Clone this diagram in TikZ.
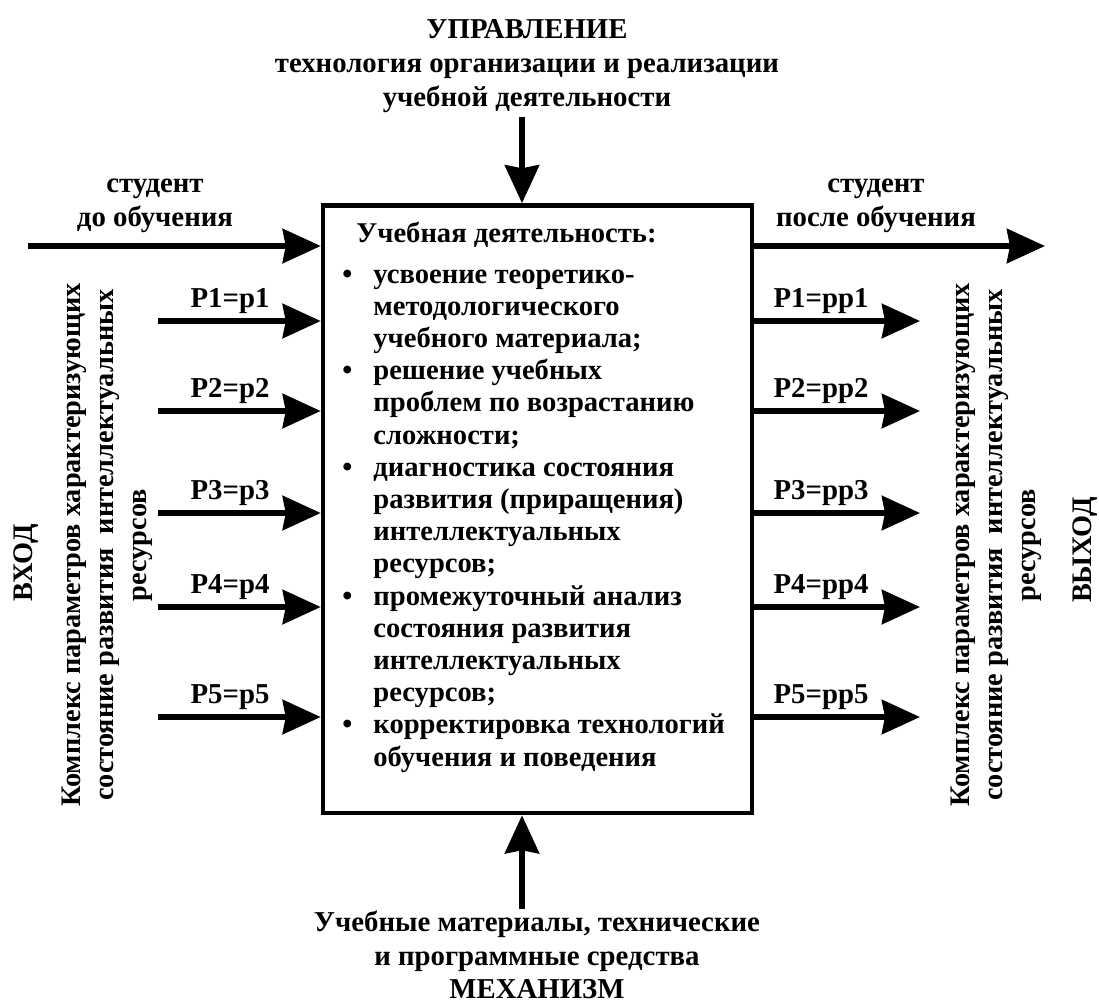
\documentclass[tikz,border=0pt]{standalone}
\usepackage{fontspec}
\setmainfont{Liberation Serif}
\usetikzlibrary{arrows.meta}

\tikzset{
  flow/.style={line width=3pt,-{Stealth[length=19pt,width=17pt,inset=1.5pt]}},
  lbl/.style={font=\bfseries\fontsize{14.4}{16.8}\selectfont,inner sep=0pt,align=center},
  side/.style={lbl,font=\bfseries\fontsize{14.15}{16.5}\selectfont,rotate=90},
  acts/.style={font=\bfseries\fontsize{14.3}{16.1}\selectfont,inner sep=0pt,align=left},
}

\begin{document}
\begin{tikzpicture}[x=0.5pt,y=-0.5pt]
  \useasboundingbox (0,0) rectangle (1099,1003);

  \node[draw,line width=2.25pt,minimum width=214.5pt,minimum height=303.75pt,inner sep=0pt] (box) at (537.5,509.25) {};

  \node[acts,anchor=north west] (tasks) at (342,222) {%
    \hspace*{7pt}Учебная деятельность:\\[4pt]
    \makebox[15.5pt][l]{\textbullet}усвоение теоретико-\\
    \hspace*{15.5pt}методологического\\
    \hspace*{15.5pt}учебного материала;\\
    \makebox[15.5pt][l]{\textbullet}решение учебных\\
    \hspace*{15.5pt}проблем по возрастанию\\
    \hspace*{15.5pt}сложности;\\
    \makebox[15.5pt][l]{\textbullet}диагностика состояния\\
    \hspace*{15.5pt}развития (приращения)\\
    \hspace*{15.5pt}интеллектуальных\\
    \hspace*{15.5pt}ресурсов;\\
    \makebox[15.5pt][l]{\textbullet}промежуточный анализ\\
    \hspace*{15.5pt}состояния развития\\
    \hspace*{15.5pt}интеллектуальных\\
    \hspace*{15.5pt}ресурсов;\\
    \makebox[15.5pt][l]{\textbullet}корректировка технологий\\
    \hspace*{15.5pt}обучения и поведения};

  \node[lbl] (ctrl) at (527,66) {УПРАВЛЕНИЕ\\технология организации и реализации\\учебной деятельности};
  \node[lbl] (mech) at (537,955) {Учебные материалы, технические\\и программные средства\\МЕХАНИЗМ};
  \coordinate (ctrlend) at (522,117);
  \coordinate (mechend) at (522,909);
  \draw[flow] (ctrlend) -- (ctrlend |- box.north);
  \draw[flow] (mechend) -- (mechend |- box.south);

  \node[lbl] (stin) at (155,206) {студент\\до обучения};
  \node[lbl] (stout) at (876,206) {студент\\после обучения};
  \coordinate (stbeg) at (28,246);
  \coordinate (stend) at (1045,246);
  \draw[flow] (stbeg) -- (stbeg -| box.west);
  \draw[flow] (stend -| box.east) -- (stend);

  \foreach \i/\y in {1/321,2/411,3/513,4/607,5/717} {
    \coordinate (in\i) at (158,\y);
    \coordinate (out\i) at (920,\y);
    \node[lbl,anchor=base] (pin\i) at (230,\y-14) {P\i=p\i};
    \node[lbl,anchor=base] (pout\i) at (821,\y-14) {P\i=pp\i};
    \draw[flow] (in\i) -- (in\i -| box.west);
    \draw[flow] (out\i -| box.east) -- (out\i);
  }

  \node[side] (inparams) at (107,545) {Комплекс параметров характеризующих\\состояние развития~~интеллектуальных\\ресурсов};
  \node[side] (outparams) at (996,545) {Комплекс параметров характеризующих\\состояние развития~~интеллектуальных\\ресурсов};
  \node[side] (inhead) at (26,563) {ВХОД};
  \node[side] (outhead) at (1085,550) {ВЫХОД};
\end{tikzpicture}
\end{document}
